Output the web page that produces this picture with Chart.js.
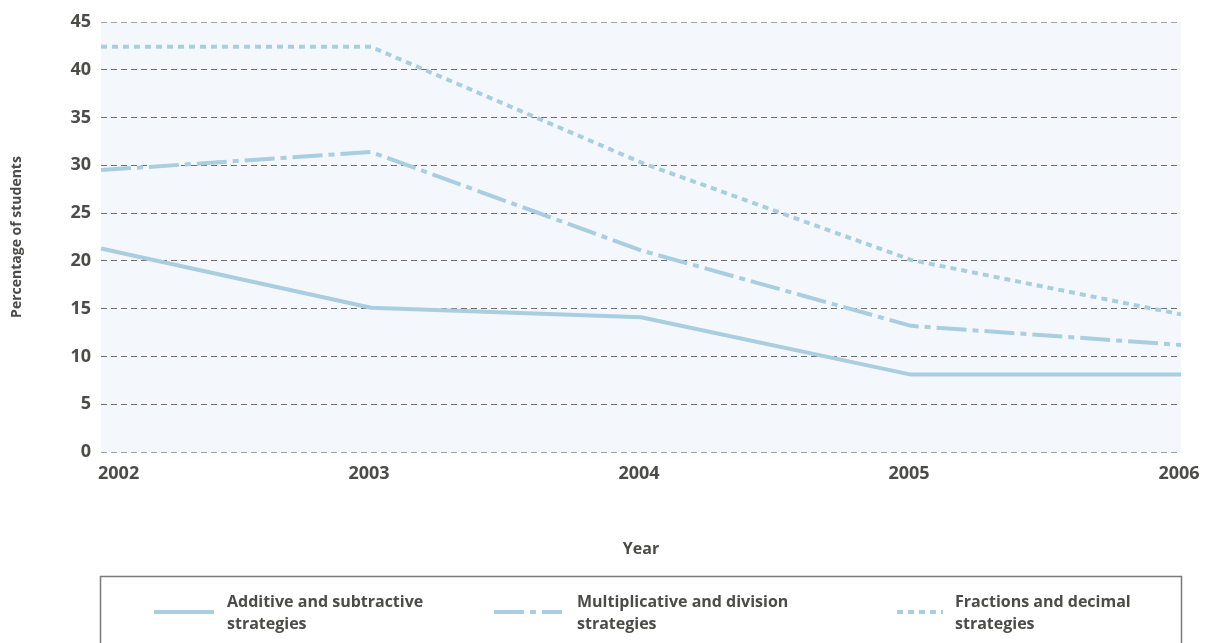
<!DOCTYPE html>
<html>
<head>
<meta charset="utf-8">
<title>Percentage of students by strategy, 2002–2006</title>
<script src="https://cdn.jsdelivr.net/npm/chart.js@4/dist/chart.umd.min.js"></script>
<style>
  html, body { margin: 0; padding: 0; background: #ffffff; }
  #wrap { width: 1208px; height: 643px; }
</style>
</head>
<body>
<div id="wrap"><canvas id="chart" width="1208" height="643"></canvas></div>
<script>
// Years on the horizontal axis
const years = ['2002', '2003', '2004', '2005', '2006'];

// Percentage of students using each strategy
const additive = [21.3, 15.1, 14.1, 8.1, 8.1];
const multiplicative = [29.5, 31.4, 21.1, 13.2, 11.2];
const fractions = [42.4, 42.4, 30.3, 20.1, 14.4];

// Series names (two lines each in the legend)
const seriesNames = [
  ['Additive and subtractive', 'strategies'],
  ['Multiplicative and division', 'strategies'],
  ['Fractions and decimal', 'strategies']
];

// Y axis range and step
const yMin = 0;
const yMax = 45;
const yStep = 5;

const FONT = "'Open Sans', 'Noto Sans', 'DejaVu Sans', sans-serif";
const TEXT = '#4b4b49';
const LINE = '#a8cedf';

const dashPatterns = [[], [30, 6, 6, 6], [6, 5]];

// Light panel behind the plotting area
const plotBackground = {
  id: 'plotBackground',
  beforeDraw(chart) {
    const { ctx, chartArea: a } = chart;
    ctx.save();
    ctx.fillStyle = '#f4f8fc';
    ctx.fillRect(a.left, a.top, a.right - a.left, a.bottom - a.top);
    ctx.restore();
  }
};

// Year labels under the axis: first one starts at its tick, others centred
const yearLabels = {
  id: 'yearLabels',
  afterDraw(chart) {
    const { ctx, chartArea: a } = chart;
    const xs = chart.scales.x;
    ctx.save();
    ctx.font = `bold 18px ${FONT}`;
    ctx.fillStyle = TEXT;
    ctx.textBaseline = 'middle';
    years.forEach((label, i) => {
      const x = xs.getPixelForValue(i);
      ctx.textAlign = i === 0 ? 'left' : 'center';
      ctx.fillText(label, i === 0 ? x - 3 : x - 2, a.bottom + 22);
    });
    ctx.restore();
  }
};

// Boxed legend below the chart with two-line entries
const boxedLegend = {
  id: 'boxedLegend',
  afterDraw(chart) {
    const { ctx, chartArea: a } = chart;
    const top = 576;
    ctx.save();
    ctx.strokeStyle = '#7a7a7a';
    ctx.lineWidth = 1.5;
    ctx.strokeRect(a.left - 0.5, top + 0.5, a.right - a.left + 1, 120);

    const sampleStart = [154, 494, 897];
    const sampleEnd = [214, 562, 943];
    const textX = [227, 577, 955];
    chart.data.datasets.forEach((ds, i) => {
      ctx.strokeStyle = ds.borderColor;
      ctx.lineWidth = 4;
      ctx.lineCap = 'butt';
      ctx.setLineDash(ds.borderDash || []);
      ctx.beginPath();
      ctx.moveTo(sampleStart[i], top + 36);
      ctx.lineTo(sampleEnd[i], top + 36);
      ctx.stroke();
      ctx.setLineDash([]);

      ctx.font = `bold 16px ${FONT}`;
      ctx.fillStyle = TEXT;
      ctx.textAlign = 'left';
      ctx.textBaseline = 'alphabetic';
      seriesNames[i].forEach((line, j) => {
        ctx.fillText(line, textX[i], top + 31 + j * 22);
      });
    });
    ctx.restore();
  }
};

const makeSeries = (label, data, dash) => ({
  label,
  data,
  borderColor: LINE,
  backgroundColor: LINE,
  borderWidth: 4,
  borderDash: dash,
  borderCapStyle: 'butt',
  borderJoinStyle: 'round',
  pointRadius: 0,
  pointHoverRadius: 0,
  tension: 0,
  fill: false
});

new Chart(document.getElementById('chart'), {
  type: 'line',
  data: {
    labels: years,
    datasets: [
      makeSeries(seriesNames[0].join(' '), additive, dashPatterns[0]),
      makeSeries(seriesNames[1].join(' '), multiplicative, dashPatterns[1]),
      makeSeries(seriesNames[2].join(' '), fractions, dashPatterns[2])
    ]
  },
  options: {
    responsive: false,
    devicePixelRatio: 1,
    animation: false,
    layout: { padding: { left: 0, top: 22, right: 27, bottom: 84 } },
    plugins: {
      legend: { display: false },
      tooltip: { enabled: false }
    },
    scales: {
      x: {
        type: 'category',
        offset: false,
        grid: { display: false, drawTicks: false },
        border: { display: false },
        ticks: { display: false },
        title: {
          display: true,
          text: 'Year',
          color: TEXT,
          font: { family: FONT, size: 16, weight: 'bold' },
          padding: { top: 0, bottom: 0 }
        },
        afterFit(scale) { scale.height = 107; }
      },
      y: {
        min: yMin,
        max: yMax,
        grid: {
          drawTicks: false,
          lineWidth: 1,
          color: (c) => (c.tick && (c.tick.value === yMax || c.tick.value === yMin)) ? '#a3a3a3' : '#6f6f6f'
        },
        border: { display: false, dash: [6, 4] },
        ticks: {
          stepSize: yStep,
          padding: 10,
          color: TEXT,
          font: { family: FONT, size: 18, weight: 'bold' }
        },
        title: {
          display: true,
          text: 'Percentage of students',
          color: TEXT,
          font: { family: FONT, size: 14, weight: 'bold' },
          padding: { top: 9, bottom: 0 }
        },
        afterFit(scale) { scale.width = 101; }
      }
    }
  },
  plugins: [plotBackground, yearLabels, boxedLegend]
});
</script>
</body>
</html>
